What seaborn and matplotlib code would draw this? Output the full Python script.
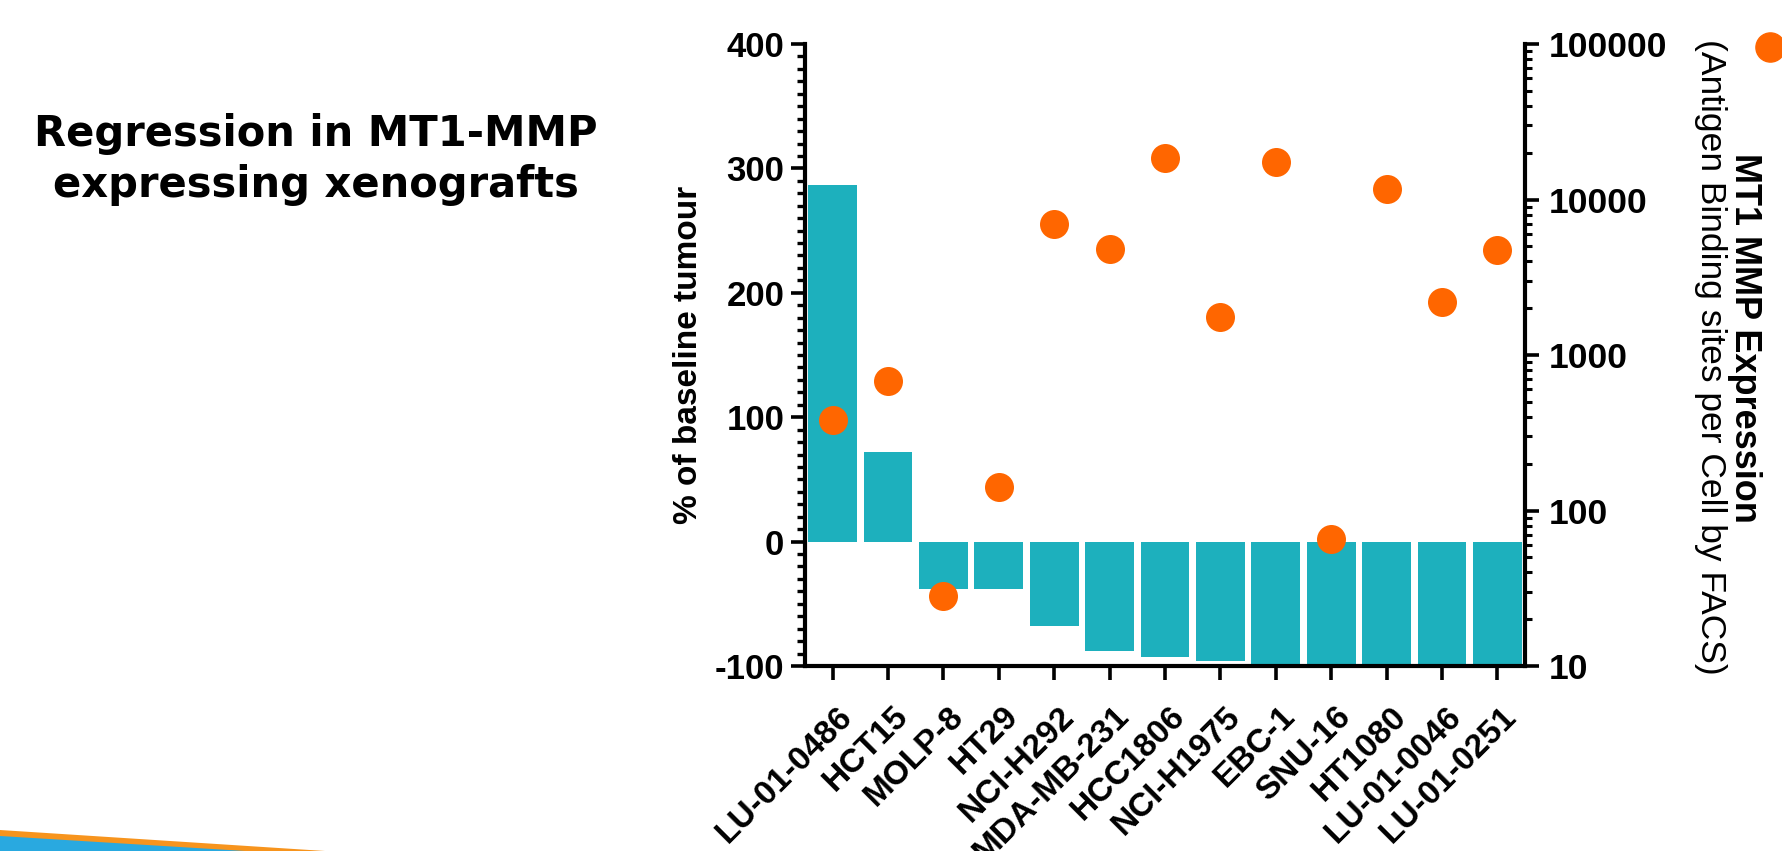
import numpy as np
import pandas as pd
import matplotlib.pyplot as plt
import matplotlib.transforms as mtransforms
from matplotlib.ticker import MultipleLocator, LogLocator, NullFormatter
from matplotlib.lines import Line2D
from matplotlib.patches import Polygon
import seaborn as sns

sns.set_style("ticks")
plt.rcParams['font.family'] = ['Liberation Sans', 'DejaVu Sans']
plt.rcParams['font.weight'] = 'bold'
plt.rcParams['axes.labelweight'] = 'bold'
plt.rcParams['axes.unicode_minus'] = False
for key in ['text.color', 'axes.labelcolor', 'xtick.color', 'ytick.color', 'axes.edgecolor']:
    plt.rcParams[key] = 'black'

# data
cell_lines = ["LU-01-0486", "HCT15", "MOLP-8", "HT29", "NCI-H292", "MDA-MB-231",
              "HCC1806", "NCI-H1975", "EBC-1", "SNU-16", "HT1080", "LU-01-0046", "LU-01-0251"]
tumour_pct = [287, 72, -38, -38, -68, -88, -93, -96, -100, -100, -100, -100, -100]
mt1_expression = [383, 684, 28, 141, 7000, 4770, 18500, 1750, 17300, 66, 11600, 2200, 4720]

left_ticks = [-100, 0, 100, 200, 300, 400]
right_ticks = [10, 100, 1000, 10000, 100000]

bar_color = "#1DB0BD"
dot_color = "#FF6600"

df = pd.DataFrame({"cell_line": cell_lines,
                   "pct": tumour_pct,
                   "expr": mt1_expression,
                   "pos": np.arange(len(cell_lines))})

W, H = 1783, 851
fig = plt.figure(figsize=(W / 100, H / 100), dpi=100)
ax = fig.add_axes([805 / W, 1 - 666 / H, 720 / W, 622 / H])

# bars: % of baseline tumour
sns.barplot(data=df, x="cell_line", y="pct", color=bar_color, saturation=1,
            width=0.88, linewidth=0, errorbar=None, ax=ax)
ax.set_ylim(-100, 400)
ax.set_yticks(left_ticks)
ax.yaxis.set_minor_locator(MultipleLocator(10))
ax.set_xlabel("")
ax.set_ylabel("% of baseline tumour", fontsize=24, labelpad=8)

# dots: MT1 MMP expression on log axis
ax2 = ax.twinx()
sns.scatterplot(data=df, x="pos", y="expr", color=dot_color, s=436, linewidth=0,
                ax=ax2, zorder=3, clip_on=False)
ax2.set_yscale("log")
ax2.set_ylim(10, 100000)
ax2.set_yticks(right_ticks)
ax2.set_yticklabels([str(t) for t in right_ticks])
ax2.yaxis.set_minor_locator(LogLocator(base=10, subs=np.arange(2, 10)))
ax2.yaxis.set_minor_formatter(NullFormatter())
ax2.set_xlabel("")
ax2.set_ylabel("")
ax.set_xlim(-0.5, len(cell_lines) - 0.5)

# axis styling
for s in ["top", "right"]:
    ax.spines[s].set_visible(False)
for s in ["top", "left", "bottom"]:
    ax2.spines[s].set_visible(False)
for s in ["left", "bottom"]:
    ax.spines[s].set_linewidth(3)
ax2.spines["right"].set_linewidth(3)

ax.tick_params(axis="y", which="major", length=10, width=2.6, labelsize=25, pad=5)
ax.tick_params(axis="y", which="minor", length=6, width=2.4)
ax.tick_params(axis="x", which="major", length=10, width=2.6, labelsize=24, pad=15)
ax2.tick_params(axis="y", which="major", length=10, width=2.6, labelsize=25.5, pad=7)
ax2.tick_params(axis="y", which="minor", length=5, width=2.2)

shift = mtransforms.ScaledTranslation(4 / 100, 0, fig.dpi_scale_trans)
for lab in ax.get_xticklabels():
    lab.set_rotation(45)
    lab.set_ha("right")
    lab.set_va("top")
    lab.set_rotation_mode("anchor")
    lab.set_transform(lab.get_transform() + shift)

# right axis titles
fig.text(1745 / W, 1 - 338 / H, "MT1 MMP Expression", rotation=270,
         ha="center", va="center", fontsize=26, fontweight="bold")
fig.text(1711 / W, 1 - 357 / H, "(Antigen Binding sites per Cell by FACS)", rotation=270,
         ha="center", va="center", fontsize=25.5, fontweight="normal")

# legend key for the dots, top right
fig.add_artist(Line2D([1770 / W], [1 - 47 / H], marker="o", markersize=21, color=dot_color,
                      linestyle="none", transform=fig.transFigure))

# slide title
fig.text(316 / W, 1 - 113 / H, "Regression in MT1-MMP\nexpressing xenografts",
         ha="center", va="top", fontsize=30, fontweight="bold",
         family="DejaVu Sans", linespacing=1.28)

# decorative swoosh bottom left
fig.add_artist(Polygon([(0, 1 - 830 / H), (325 / W, 0), (0, 0)], closed=True,
                       facecolor="#F7941D", edgecolor="none", transform=fig.transFigure))
fig.add_artist(Polygon([(0, 1 - 836 / H), (245 / W, 0), (0, 0)], closed=True,
                       facecolor="#29A9E0", edgecolor="none", transform=fig.transFigure))

fig.savefig("out.png", dpi=100)
